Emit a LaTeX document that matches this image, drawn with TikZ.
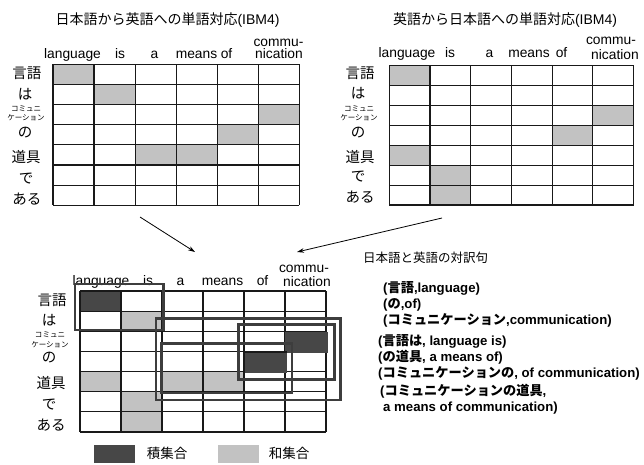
\documentclass[tikz,border=0pt]{standalone}
\usepackage{fontspec}
\setmainfont{Liberation Sans}
\newfontfamily\jp{Noto Sans CJK JP}
\usetikzlibrary{arrows.meta}
\tikzset{
  gridline/.style={line width=1.15pt, draw=black!90},
  lightcell/.style={fill=black!24},
  darkcell/.style={fill=black!72},
  phrasebox/.style={draw=black!76, line width=2.8pt},
  collab/.style={inner sep=0pt, anchor=base, font=\fontsize{13.8}{15}\selectfont},
  rowlab/.style={inner sep=0pt, font=\fontsize{14.5}{16}\selectfont\jp},
  smalllab/.style={inner sep=0pt, align=center, font=\fontsize{7.5}{9.5}\selectfont\jp},
  titlelab/.style={inner sep=0pt, font=\fontsize{14}{16}\selectfont},
  listlab/.style={inner sep=0pt, anchor=base west, font=\fontsize{13.2}{16}\selectfont\bfseries},
  arrowline/.style={line width=0.8pt, -{Stealth[length=7pt,width=4.5pt]}}
}
\newcommand\setgrid[4]{\def\GL{#1}\def\GT{#2}\def\GW{#3}\def\GH{#4}}
\newcommand\cellat[3]{\fill[#1] ({\GL+#3*\GW},{\GT+#2*\GH}) rectangle ({\GL+(#3+1)*\GW},{\GT+(#2+1)*\GH});}
\newcommand\gridlines{%
  \foreach \c in {0,...,6} {\draw[gridline] ({\GL+\c*\GW},\GT) -- ({\GL+\c*\GW},{\GT+7*\GH});}
  \foreach \r in {0,...,7} {\draw[gridline] (\GL,{\GT+\r*\GH}) -- ({\GL+6*\GW},{\GT+\r*\GH});}}
\begin{document}
\begin{tikzpicture}[x=1pt,y=-1pt]
\useasboundingbox (0,0) rectangle (644,464);
\fill[white] (0,0) rectangle (644,464);

% ---------- top-left grid ----------
\node[titlelab] (t1) at (167.5,20) {{\jp 日本語から英語への単語対応}(IBM4)};
\setgrid{53}{64.3}{41.05}{20.15}
\cellat{lightcell}{0}{0}
\cellat{lightcell}{1}{1}
\cellat{lightcell}{2}{5}
\cellat{lightcell}{3}{4}
\cellat{lightcell}{4}{2}
\cellat{lightcell}{4}{3}
\gridlines
\node[collab] (c1a) at (72.5,58) {language};
\node[collab] (c1b) at (120,58) {is};
\node[collab] (c1c) at (154.5,58) {a};
\node[collab] (c1d) at (196.5,58) {means};
\node[collab] (c1e) at (226.5,58) {of};
\node[collab] (c1f) at (278.5,46) {commu-};
\node[collab] (c1g) at (279,58.5) {nication};
\node[rowlab] (r1a) at (27,73) {言語};
\node[rowlab] (r1b) at (25,94) {は};
\node[smalllab] (r1c) at (26,113.5) {コミュニ\\ケーション};
\node[rowlab] (r1d) at (25,133) {の};
\node[rowlab] (r1e) at (26,157) {道具};
\node[rowlab] (r1f) at (26,179) {で};
\node[rowlab] (r1g) at (27,199) {ある};

% ---------- top-right grid ----------
\node[titlelab] (t2) at (505,20) {{\jp 英語から日本語への単語対応}(IBM4)};
\setgrid{389.3}{65.6}{40.7}{19.92}
\cellat{lightcell}{0}{0}
\cellat{lightcell}{2}{5}
\cellat{lightcell}{3}{4}
\cellat{lightcell}{4}{0}
\cellat{lightcell}{5}{1}
\cellat{lightcell}{6}{1}
\gridlines
\node[collab] (c2a) at (407,57) {language};
\node[collab] (c2b) at (450,57) {is};
\node[collab] (c2c) at (489.5,57) {a};
\node[collab] (c2d) at (529,57) {means};
\node[collab] (c2e) at (561.5,57) {of};
\node[collab] (c2f) at (611,44.5) {commu-};
\node[collab] (c2g) at (615,59) {nication};
\node[rowlab] (r2a) at (360,73) {言語};
\node[rowlab] (r2b) at (358,93) {は};
\node[smalllab] (r2c) at (359,113.5) {コミュニ\\ケーション};
\node[rowlab] (r2d) at (358,133) {の};
\node[rowlab] (r2e) at (360,157) {道具};
\node[rowlab] (r2f) at (358,177) {で};
\node[rowlab] (r2g) at (360,197) {ある};

% ---------- bottom grid ----------
\setgrid{80}{291}{41}{20.15}
\cellat{lightcell}{1}{1}
\cellat{lightcell}{4}{0}
\cellat{lightcell}{4}{2}
\cellat{lightcell}{4}{3}
\cellat{lightcell}{5}{1}
\cellat{lightcell}{6}{1}
\cellat{darkcell}{0}{0}
\gridlines
\fill[darkcell] (285,332) rectangle (328,353);
\fill[darkcell] (245,352) rectangle (287,373);
\draw[gridline] (245,352) -- (287,352);
\node[collab] (c3a) at (101,285) {language};
\node[collab] (c3b) at (148,285) {is};
\node[collab] (c3c) at (180.5,285) {a};
\node[collab] (c3d) at (222.5,285) {means};
\node[collab] (c3e) at (262.5,285) {of};
\node[collab] (c3f) at (304,272) {commu-};
\node[collab] (c3g) at (307,286.5) {nication};
\node[rowlab] (r3a) at (52,300) {言語};
\node[rowlab] (r3b) at (49,320) {は};
\node[smalllab] (r3c) at (50,340) {コミュニ\\ケーション};
\node[rowlab] (r3d) at (49,358) {の};
\node[rowlab] (r3e) at (51,383) {道具};
\node[rowlab] (r3f) at (49,405) {で};
\node[rowlab] (r3g) at (51,425) {ある};

% phrase boxes
\draw[phrasebox] (75,284) rectangle (163.5,330) node[coordinate] (boxA) {};
\draw[phrasebox] (156,318.5) rectangle (340.5,400) node[coordinate] (boxB) {};
\draw[phrasebox] (161.5,343.5) rectangle (292,393) node[coordinate] (boxC) {};
\draw[phrasebox] (238.5,324.5) rectangle (334.5,379.5) node[coordinate] (boxD) {};

% legend
\node[fill=black!72, minimum width=41pt, minimum height=18pt, inner sep=0pt] (legdark) at (114.5,454) {};
\node[fill=black!24, minimum width=41pt, minimum height=18pt, inner sep=0pt] (leglight) at (238.5,454) {};
\node[rowlab, font=\fontsize{13.5}{15}\selectfont\jp] (legdarkt) at (167,453) {積集合};
\node[rowlab, font=\fontsize{13.5}{15}\selectfont\jp] (leglightt) at (289,453) {和集合};

% arrows
\coordinate (a1s) at (140,217);
\coordinate (a1e) at (195,252);
\coordinate (a2s) at (442,218);
\coordinate (a2e) at (297,252);
\draw[arrowline] (a1s) -- (a1e);
\draw[arrowline] (a2s) -- (a2e);

% right text
\node[inner sep=0pt, anchor=west, font=\fontsize{12.5}{15}\selectfont\jp] (ptitle) at (363,258) {日本語と英語の対訳句};
\node[listlab] (p1) at (383,292) {({\jp 言語},language)};
\node[listlab] (p2) at (383,308) {({\jp の},of)};
\node[listlab] (p3) at (383,324) {({\jp コミュニケーション},communication)};
\node[listlab] (p4) at (378,345) {({\jp 言語は}, language is)};
\node[listlab] (p5) at (378,361) {({\jp の道具}, a means of)};
\node[listlab] (p6) at (378,377) {({\jp コミュニケーションの}, of communication)};
\node[listlab] (p7) at (380,395) {({\jp コミュニケーションの道具},};
\node[listlab] (p8) at (383,411) {a means of communication)};
\end{tikzpicture}
\end{document}
